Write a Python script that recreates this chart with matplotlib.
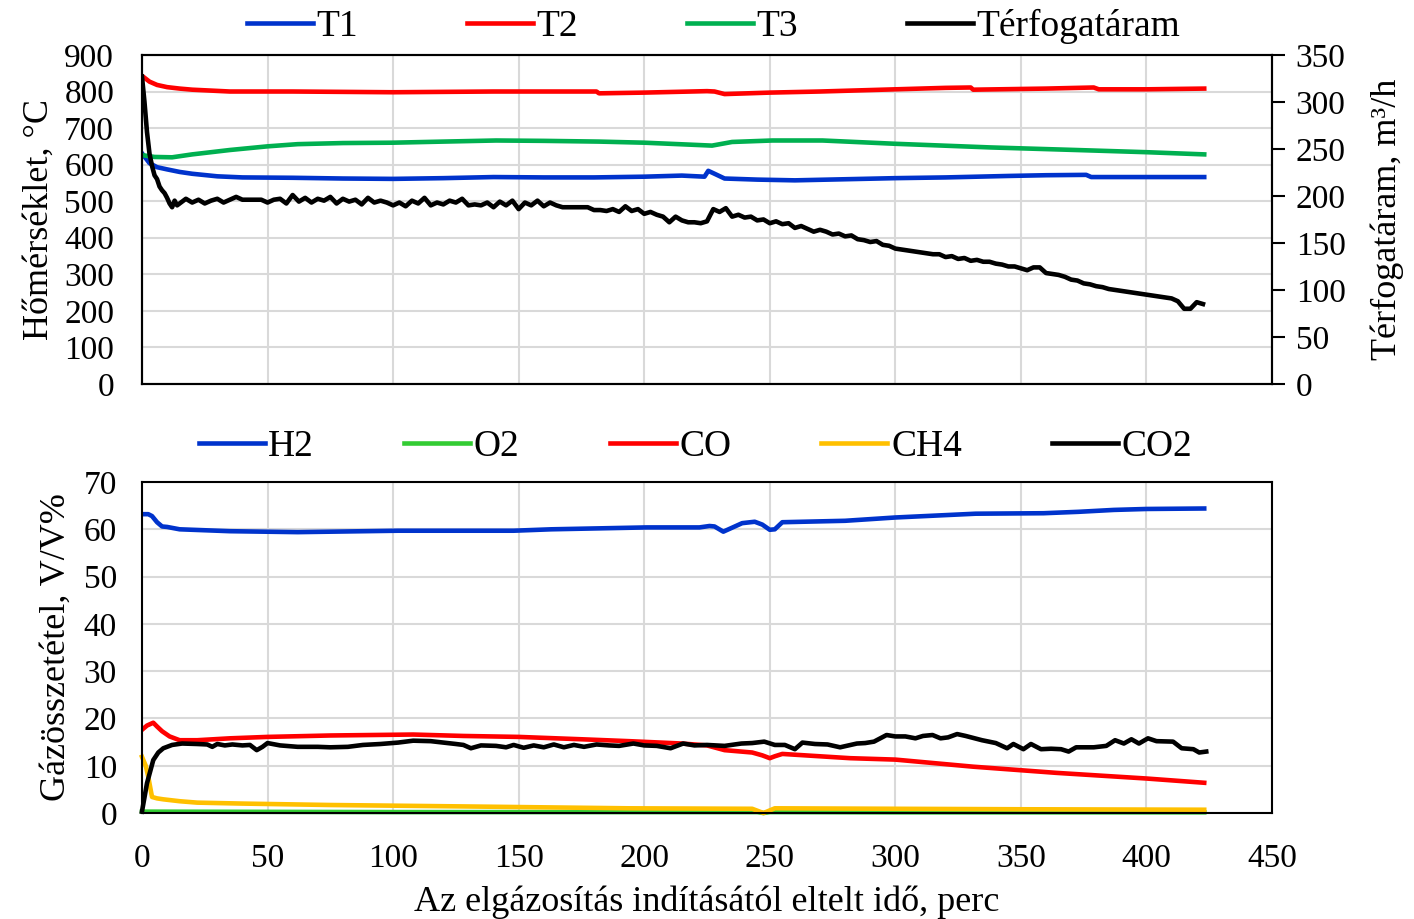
import matplotlib.pyplot as plt
import numpy as np

plt.rcParams['font.family'] = ['Liberation Serif', 'DejaVu Serif']
plt.rcParams['font.size'] = 24

# ---- felső diagram: hőmérsékletek (°C) ----
t1_t = [0, 3, 6, 10, 15, 20, 30, 40, 60, 80, 100, 120, 140, 160, 180, 200, 215, 224,
        225.5, 228, 232, 245, 260, 280, 300, 320, 345, 360, 376, 378, 400, 423]
t1_v = [631, 604, 593, 587, 580, 575, 568, 565, 564, 562, 561, 563, 566, 565, 565, 567, 570, 567,
        583, 575, 562, 559, 557, 560, 563, 565, 569, 571, 572, 566, 566, 566]

t2_t = [0, 3, 6, 10, 15, 20, 35, 60, 100, 140, 181, 182, 200, 225, 228, 232, 250, 270,
        300, 320, 330, 331, 360, 379, 381, 400, 423]
t2_v = [843, 827, 818, 812, 808, 805, 800, 800, 798, 800, 800, 795, 797, 801, 800, 793, 797, 800,
        806, 810, 811, 805, 808, 811, 806, 806, 808]

t3_t = [0, 5, 12, 20, 35, 50, 62, 80, 100, 120, 141, 160, 182, 200, 217, 227, 235, 251,
        271, 300, 338, 372, 400, 423]
t3_v = [626, 621, 620, 628, 640, 650, 656, 659, 660, 663, 666, 665, 663, 660, 655, 652, 662, 666,
        666, 657, 647, 640, 634, 628]

# térfogatáram (m3/h), jobb tengely
vol_t = [0, 1, 2, 3, 4, 5, 6, 7, 8, 9, 10, 11, 12, 13, 14] + list(np.arange(15, 423, 2.5))
vol_v = [327, 300, 268, 245, 232, 222, 218, 210, 206, 203, 198, 192, 188, 195, 190,
         192, 197, 193, 196, 192, 195, 197, 193, 196, 199,
         196, 196, 196, 196, 193, 196, 197, 192, 201, 194,
         198, 193, 197, 195, 199, 192, 197, 194, 196, 191,
         198, 193, 195, 193, 190, 193, 189, 195, 192, 198,
         190, 193, 191, 195, 193, 197, 190, 191, 190, 193,
         188, 194, 190, 195, 186, 193, 190, 195, 189, 193,
         190, 188, 188, 188, 188, 188, 185, 185, 184, 186,
         183, 189, 184, 186, 181, 183, 180, 178, 172, 178,
         174, 172, 172, 171, 173, 186, 183, 187, 178, 180,
         177, 178, 174, 175, 171, 173, 170, 171, 166, 168,
         165, 162, 164, 162, 159, 160, 157, 158, 154, 153,
         151, 152, 148, 147, 144, 143, 142, 141, 140, 139,
         138, 138, 135, 136, 133, 134, 131, 132, 130, 130,
         128, 127, 125, 125, 123, 121, 124, 124, 118, 117,
         116, 114, 111, 110, 107, 106, 104, 103, 101, 100,
         99, 98, 97, 96, 95, 94, 93, 92, 91, 88,
         80, 80, 87, 85]

# ---- alsó diagram: gázösszetétel (V/V%) ----
h2_t = [0, 2.5, 4, 6, 8, 10, 15, 25, 35, 62, 102, 148, 163, 201, 222, 226, 228, 231.5,
        239, 244, 247, 250, 252, 255, 280, 300, 332, 359, 373, 387, 400, 423]
h2_v = [63.2, 63.2, 62.8, 61.5, 60.6, 60.5, 60.0, 59.8, 59.6, 59.4, 59.7, 59.7, 60.0, 60.4, 60.4,
        60.7, 60.6, 59.5, 61.3, 61.6, 61.0, 59.9, 60.0, 61.5, 61.8, 62.5, 63.3, 63.4, 63.7, 64.1,
        64.3, 64.4]

o2_t = [0, 50, 100, 200, 245, 247.5, 250, 300, 423]
o2_v = [0.3, 0.25, 0.2, 0.2, 0.2, 0.0, 0.2, 0.15, 0.15]

co_t = [0, 2, 4.5, 6, 8, 11, 15, 22, 35, 50, 75, 108, 128, 150, 175, 194, 215, 225, 232,
        243, 247, 250, 252, 255, 282, 300, 331, 364, 400, 423]
co_v = [17.6, 18.5, 19.1, 18.3, 17.3, 16.2, 15.4, 15.4, 15.8, 16.1, 16.4, 16.6, 16.3, 16.1, 15.6,
        15.2, 14.7, 14.3, 13.3, 12.8, 12.2, 11.6, 12.0, 12.5, 11.6, 11.3, 9.8, 8.5, 7.3, 6.4]

ch4_t = [0, 1.5, 2.5, 4, 6, 8.5, 15, 22, 40, 75, 128, 194, 243, 247.5, 252, 300, 350, 423]
ch4_v = [11.9, 10.0, 7.7, 3.4, 3.1, 2.9, 2.5, 2.2, 2.0, 1.7, 1.4, 1.0, 0.9, 0.0, 1.0, 0.9, 0.8, 0.7]

co2_t = [0, 2, 4.5, 6.5, 8.5, 12, 16, 22, 26, 28, 30, 33, 36, 40, 43, 45.7, 48, 50, 55, 62,
         70, 75, 82, 88, 95, 102, 108, 115, 120, 125, 128, 131, 135, 141, 145, 148, 152, 156,
         160, 164, 168, 172, 176, 181, 186, 190, 195.7, 200, 205, 210.5, 215.5, 220, 225, 232,
         238.7, 243, 247.8, 252, 256, 260, 263, 268, 273, 278, 284.7, 288, 291.5, 296.5, 300,
         304, 308, 311, 314.8, 318, 321, 324.6, 328, 334.5, 340, 344.5, 347, 351, 354, 358,
         362, 366, 369, 372, 379, 384, 387.5, 391, 394, 397, 400.6, 404, 410.6, 414, 418.7,
         421, 423.8]
co2_v = [0.3, 6.3, 11.2, 12.8, 13.7, 14.4, 14.7, 14.6, 14.5, 14.0, 14.6, 14.3, 14.5, 14.3, 14.4,
         13.3, 14.0, 14.8, 14.3, 14.0, 14.0, 13.9, 14.0, 14.4, 14.6, 14.9, 15.3, 15.2, 14.9, 14.6,
         14.4, 13.7, 14.3, 14.2, 13.9, 14.4, 13.8, 14.3, 13.9, 14.5, 13.9, 14.4, 14.0, 14.5, 14.3,
         14.2, 14.7, 14.3, 14.2, 13.7, 14.7, 14.3, 14.4, 14.2, 14.7, 14.8, 15.1, 14.4, 14.4, 13.5,
         14.9, 14.6, 14.5, 13.9, 14.7, 14.8, 15.1, 16.5, 16.2, 16.2, 15.8, 16.3, 16.5, 15.8, 16.0,
         16.7, 16.3, 15.4, 14.8, 13.7, 14.6, 13.5, 14.6, 13.5, 13.6, 13.5, 13.0, 13.9, 13.9, 14.2,
         15.4, 14.7, 15.6, 14.7, 15.8, 15.2, 15.1, 13.7, 13.5, 12.8, 13.0]

kek = '#0033CC'
piros = '#FF0000'
zold = '#00B050'
zold2 = '#33CC33'
sarga = '#FFC000'
racs = '#D9D9D9'
vastag = 3.3

fig = plt.figure(figsize=(14.14, 9.19), dpi=100)

# felső diagram
ax1 = fig.add_axes([0.1004, 0.5822, 0.7992, 0.358])
ax2 = ax1.twinx()

l1, = ax1.plot(t1_t, t1_v, color=kek, lw=vastag, label='T1')
l2, = ax1.plot(t2_t, t2_v, color=piros, lw=vastag, label='T2')
l3, = ax1.plot(t3_t, t3_v, color=zold, lw=vastag, label='T3')
l4, = ax2.plot(vol_t, vol_v, color='black', lw=vastag, label='Térfogatáram')

ax1.set_xlim(0, 450)
ax1.set_ylim(0, 900)
ax1.set_xticks(np.arange(0, 451, 50))
ax1.set_yticks(np.arange(0, 901, 100))
ax1.tick_params(axis='x', labelbottom=False, length=0)
ax1.tick_params(axis='y', length=0, pad=20)
ax1.grid(True, color=racs, lw=1.5)
ax1.set_axisbelow(True)
ax1.set_ylabel('Hőmérséklet, °C', fontsize=26, labelpad=6)

ax2.set_ylim(0, 350)
ax2.set_yticks(np.arange(0, 351, 50))
ax2.tick_params(axis='y', length=9, width=1.5, direction='out', pad=8)
ax2.set_ylabel('Térfogatáram, m³/h', fontsize=26, labelpad=18)

for a in (ax1, ax2):
    for s in a.spines.values():
        s.set_linewidth(1.5)
        s.set_color('black')

fig.legend([l1, l2, l3, l4], ['T1', 'T2', 'T3', 'Térfogatáram'], loc='center',
           bbox_to_anchor=(0.5046, 0.971), ncol=4, frameon=False, fontsize=27,
           handlelength=1.76, handletextpad=0.1, columnspacing=2.9)

# alsó diagram
ax3 = fig.add_axes([0.1004, 0.1153, 0.7992, 0.3602])
ax3.plot(h2_t, h2_v, color=kek, lw=vastag, label='H2')
ax3.plot(o2_t, o2_v, color=zold2, lw=vastag, label='O2', clip_on=False)
ax3.plot(co_t, co_v, color=piros, lw=vastag, label='CO')
ax3.plot(ch4_t, ch4_v, color=sarga, lw=vastag, label='CH4', clip_on=False)
ax3.plot(co2_t, co2_v, color='black', lw=vastag, label='CO2', clip_on=False)

ax3.set_xlim(0, 450)
ax3.set_ylim(0, 70)
ax3.set_xticks(np.arange(0, 451, 50))
ax3.set_yticks(np.arange(0, 71, 10))
ax3.tick_params(axis='both', length=0)
ax3.tick_params(axis='x', pad=22)
ax3.tick_params(axis='y', pad=18)
ax3.grid(True, color=racs, lw=1.5)
ax3.set_axisbelow(True)
for s in ax3.spines.values():
    s.set_linewidth(1.5)
    s.set_color('black')
ax3.set_ylabel('Gázösszetétel, V/V%', fontsize=26, labelpad=8)
ax3.set_xlabel('Az elgázosítás indításától eltelt idő, perc', fontsize=26, labelpad=8)

h, l = ax3.get_legend_handles_labels()
fig.legend(h, l, loc='center', bbox_to_anchor=(0.4919, 0.514), ncol=5, frameon=False,
           fontsize=27, handlelength=1.76, handletextpad=0.1, columnspacing=2.4)

plt.savefig('out.png', dpi=100)
